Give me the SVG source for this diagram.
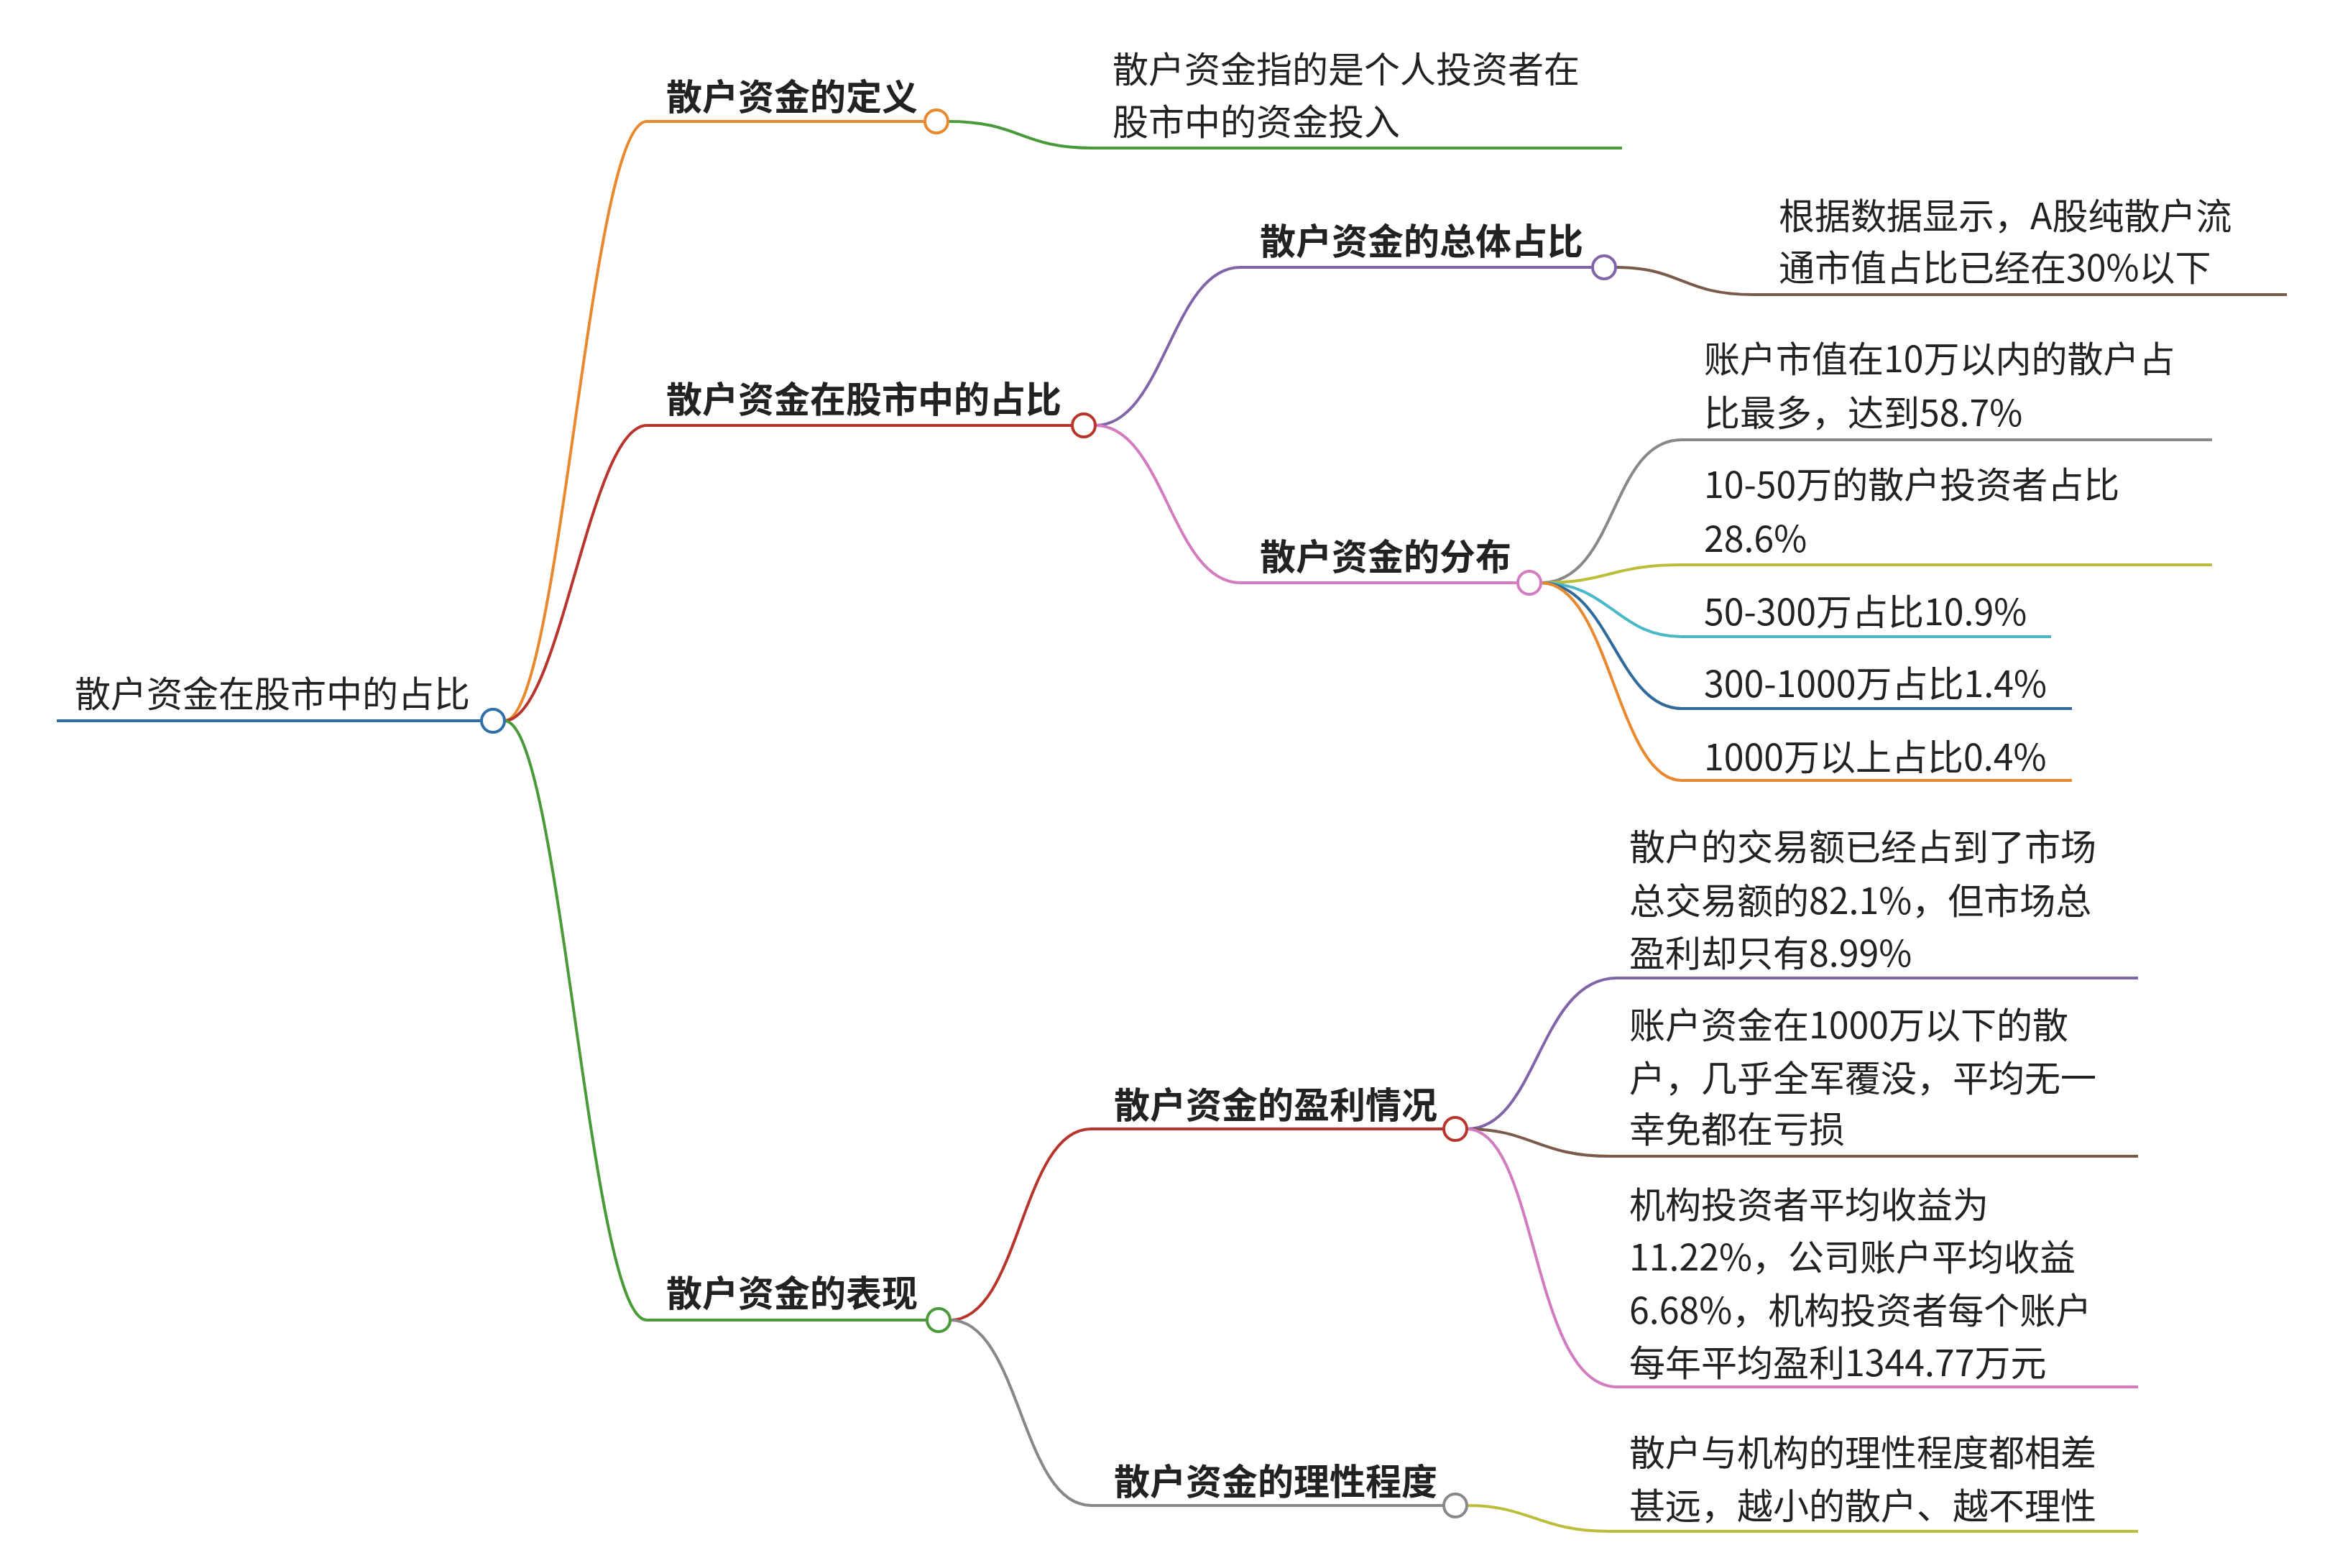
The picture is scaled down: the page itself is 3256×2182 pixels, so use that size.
<svg xmlns="http://www.w3.org/2000/svg" width="3256" height="2182" viewBox="0 0 3256 2182">
<style>
text{font-family:"Noto Sans CJK SC","Noto Sans",sans-serif;font-size:50px;fill:#222}
.b{font-weight:bold}
path{fill:none;stroke-width:4}
circle{fill:#fff;stroke-width:4}
</style>
<rect width="3256" height="2182" fill="#fff"/>
<g id="connectors">
<path d="M79 1003 H670" stroke="#2f6fa8"/>
<path d="M702 1003 C780 1003,820 169,900 169 H1287" stroke="#e8892f"/>
<path d="M702 1003 C780 1003,820 592,900 592 H1492" stroke="#b8352e"/>
<path d="M702 1003 C780 1003,820 1837,900 1837 H1290" stroke="#4a9a3a"/>
<path d="M1319 169 C1420 169,1420 206,1520 206 H2257" stroke="#4a9a3a"/>
<path d="M1524 592 C1620 592,1630 372,1726 372 H2216" stroke="#8064a8"/>
<path d="M1524 592 C1620 592,1630 811,1726 811 H2112" stroke="#d27bbf"/>
<path d="M2248 372 C2340 372,2340 410,2440 410 H3182" stroke="#7a5a4a"/>
<path d="M2144 811 C2250 811,2240 612,2340 612 H3078" stroke="#888"/>
<path d="M2144 811 C2240 811,2240 786,2340 786 H3078" stroke="#bcbd3a"/>
<path d="M2144 811 C2240 811,2250 886,2340 886 H2854" stroke="#4bb8c8"/>
<path d="M2144 811 C2240 811,2250 986,2340 986 H2883" stroke="#2f6a9a"/>
<path d="M2144 811 C2240 811,2250 1086,2340 1086 H2883" stroke="#e8892f"/>
<path d="M1322 1837 C1420 1837,1420 1571,1518 1571 H2009" stroke="#b8352e"/>
<path d="M1322 1837 C1420 1837,1420 2095,1518 2095 H2009" stroke="#888"/>
<path d="M2041 1571 C2140 1571,2140 1361,2250 1361 H2975" stroke="#8064a8"/>
<path d="M2041 1571 C2130 1571,2140 1609,2240 1609 H2975" stroke="#7a5a4a"/>
<path d="M2041 1571 C2140 1571,2130 1930,2250 1930 H2975" stroke="#d27bbf"/>
<path d="M2041 2095 C2130 2095,2140 2131,2240 2131 H2975" stroke="#bcbd3a"/>
</g>
<g id="root"><circle cx="686" cy="1003" r="16" stroke="#2f6fa8"/><text x="104" y="984">散户资金在股市中的占比</text></g>
<g id="n-def"><circle cx="1303" cy="169" r="16" stroke="#e8892f"/><text class="b" x="927" y="153">散户资金的定义</text></g>
<g id="n-def-leaf"><text x="1548" y="115">散户资金指的是个人投资者在</text><text x="1548" y="188">股市中的资金投入</text></g>
<g id="n-ratio"><circle cx="1508" cy="592" r="16" stroke="#b8352e"/><text class="b" x="927" y="574">散户资金在股市中的占比</text></g>
<g id="n-total"><circle cx="2232" cy="372" r="16" stroke="#8064a8"/><text class="b" x="1753" y="354">散户资金的总体占比</text></g>
<g id="n-total-leaf"><text x="2475" y="319">根据数据显示，A股纯散户流</text><text x="2475" y="391">通市值占比已经在30%以下</text></g>
<g id="n-dist"><circle cx="2128" cy="811" r="16" stroke="#d27bbf"/><text class="b" x="1753" y="793">散户资金的分布</text></g>
<g id="n-d1"><text x="2371" y="518">账户市值在10万以内的散户占</text><text x="2371" y="593">比最多，达到58.7%</text></g>
<g id="n-d2"><text x="2371" y="693">10-50万的散户投资者占比</text><text x="2371" y="768">28.6%</text></g>
<g id="n-d3"><text x="2371" y="870">50-300万占比10.9%</text></g>
<g id="n-d4"><text x="2371" y="970">300-1000万占比1.4%</text></g>
<g id="n-d5"><text x="2371" y="1072">1000万以上占比0.4%</text></g>
<g id="n-perf"><circle cx="1306" cy="1837" r="16" stroke="#4a9a3a"/><text class="b" x="927" y="1818">散户资金的表现</text></g>
<g id="n-profit"><circle cx="2025" cy="1571" r="16" stroke="#b8352e"/><text class="b" x="1550" y="1556">散户资金的盈利情况</text></g>
<g id="n-p1"><text x="2267" y="1197">散户的交易额已经占到了市场</text><text x="2267" y="1272">总交易额的82.1%，但市场总</text><text x="2267" y="1345">盈利却只有8.99%</text></g>
<g id="n-p2"><text x="2267" y="1445">账户资金在1000万以下的散</text><text x="2267" y="1519">户，几乎全军覆没，平均无一</text><text x="2267" y="1590">幸免都在亏损</text></g>
<g id="n-p3"><text x="2267" y="1695">机构投资者平均收益为</text><text x="2267" y="1768">11.22%，公司账户平均收益</text><text x="2267" y="1842">6.68%，机构投资者每个账户</text><text x="2267" y="1915">每年平均盈利1344.77万元</text></g>
<g id="n-rational"><circle cx="2025" cy="2095" r="16" stroke="#888"/><text class="b" x="1550" y="2080">散户资金的理性程度</text></g>
<g id="n-r1"><text x="2267" y="2040">散户与机构的理性程度都相差</text><text x="2267" y="2114">甚远，越小的散户、越不理性</text></g>
</svg>
